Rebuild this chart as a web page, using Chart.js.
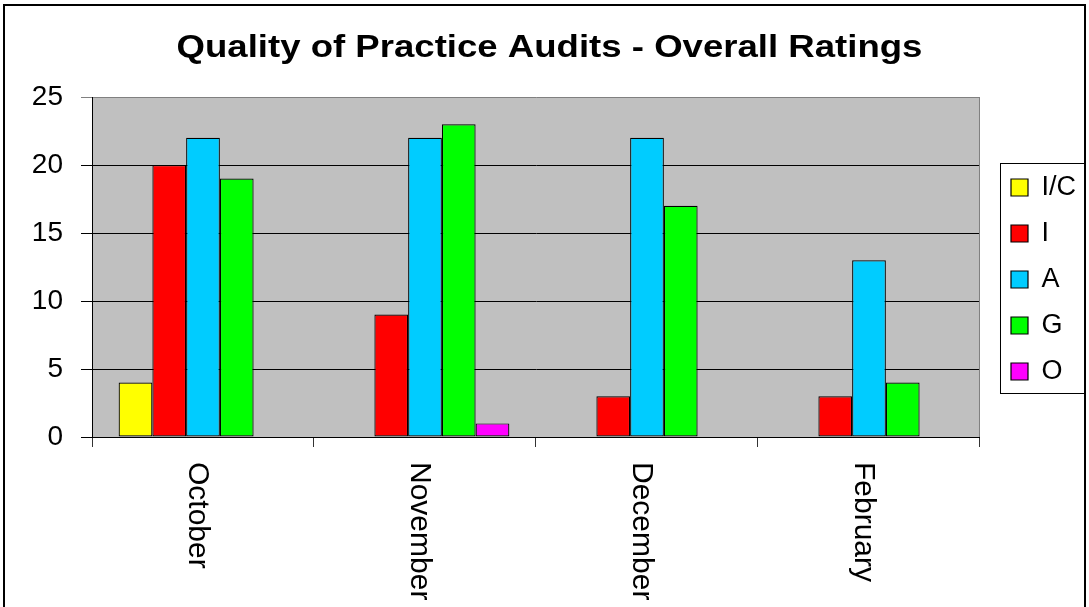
<!DOCTYPE html>
<html>
<head>
<meta charset="utf-8">
<title>Quality of Practice Audits - Overall Ratings</title>
<script src="https://cdn.jsdelivr.net/npm/chart.js@4/dist/chart.umd.min.js"></script>
<style>
  html, body { margin: 0; padding: 0; background: #fff; overflow: hidden; }
  #caixa { position: relative; width: 1089px; height: 607px; }
</style>
</head>
<body>
<div id="caixa"><canvas id="grafico"></canvas></div>
<script>
// data
const titulo = 'Quality of Practice Audits - Overall Ratings'
const meses = ['October', 'November', 'December', 'February']
const series = ['I/C', 'I', 'A', 'G', 'O']
const valoresIC = [4, 0, 0, 0]
const valoresI = [20, 9, 3, 3]
const valoresA = [22, 22, 22, 13]
const valoresG = [19, 23, 17, 4]
const valoresO = [0, 1, 0, 0]
const cores = ['#ffff00', '#ff0000', '#00ccff', '#00ff00', '#ff00ff']
const yTicks = [0, 5, 10, 15, 20, 25]

const fonte = 'Arial, "Liberation Sans", sans-serif'
Chart.defaults.font.family = fonte
Chart.defaults.color = '#000'

const todosValores = [valoresIC, valoresI, valoresA, valoresG, valoresO]

const datasets = []
for(let i = 0; i < series.length; i++){
    datasets.push({
        label: series[i],
        data: todosValores[i],
        backgroundColor: cores[i],
        borderColor: '#000',
        borderWidth: 1.2,
        borderSkipped: false
    })
}

// gray plot area, outer frame, title, rotated month labels, legend frame
const extras = {
    id: 'extras',
    afterLayout(chart){
        // legend items sit a bit right of the plot edge
        chart.legend.left += 12
        chart.legend.right += 12
    },
    beforeDraw(chart){
        const {ctx, chartArea: a} = chart
        ctx.save()
        ctx.fillStyle = '#fff'
        ctx.fillRect(0, 0, chart.width, chart.height)
        ctx.fillStyle = '#c0c0c0'
        ctx.fillRect(a.left, a.top, a.right - a.left, a.bottom - a.top)
        ctx.strokeStyle = '#000'
        ctx.lineWidth = 2
        ctx.strokeRect(4, 5, chart.width - 8, chart.height + 20)
        ctx.restore()
    },
    beforeDatasetsDraw(chart){
        const {ctx, chartArea: a} = chart
        ctx.save()
        ctx.strokeStyle = '#808080'
        ctx.lineWidth = 1
        ctx.beginPath()
        ctx.moveTo(a.right - 0.5, a.top)
        ctx.lineTo(a.right - 0.5, a.bottom)
        ctx.stroke()
        ctx.restore()
    },
    afterDraw(chart){
        const {ctx} = chart
        const x = chart.scales.x
        ctx.save()

        // title, a little wide like the original
        ctx.fillStyle = '#000'
        ctx.font = 'bold 32px ' + fonte
        ctx.textAlign = 'center'
        ctx.textBaseline = 'alphabetic'
        ctx.save()
        ctx.translate(chart.width / 2 + 5, 57)
        ctx.scale(1.143, 1)
        ctx.fillText(titulo, 0, 0)
        ctx.restore()

        // month labels read top to bottom
        ctx.font = '30px ' + fonte
        ctx.textAlign = 'left'
        for(let i = 0; i < meses.length; i++){
            ctx.save()
            ctx.translate(x.getPixelForTick(i) - 14, x.top + 25)
            ctx.rotate(Math.PI / 2)
            ctx.fillText(meses[i], 0, 0)
            ctx.restore()
        }

        const caixas = chart.legend.legendHitBoxes
        if(caixas && caixas.length){
            const primeira = caixas[0]
            const ultima = caixas[caixas.length - 1]
            const esq = primeira.left - 11
            const topo = primeira.top - 11
            const dir = chart.width - 5
            const baixo = ultima.top + ultima.height + 8
            ctx.strokeStyle = '#000'
            ctx.lineWidth = 1
            ctx.strokeRect(esq + 0.5, topo + 0.5, dir - esq, baixo - topo)
        }
        ctx.restore()
    }
}

const grafico = new Chart(document.getElementById('grafico'), {
    type: 'bar',
    data: {
        labels: meses,
        datasets: datasets
    },
    options: {
        responsive: true,
        maintainAspectRatio: false,
        animation: false,
        devicePixelRatio: 1,
        layout: {
            padding: {left: 0, right: 15, top: 97, bottom: 0}
        },
        datasets: {
            bar: {
                categoryPercentage: 0.76,
                barPercentage: 1
            }
        },
        plugins: {
            title: {display: false},
            legend: {
                position: 'right',
                fullSize: false,
                align: 'center',
                title: {display: true, text: '', padding: 0, font: {size: 20, lineHeight: 1.25}},
                labels: {
                    boxWidth: 17,
                    boxHeight: 17,
                    padding: 19,
                    color: '#000',
                    font: {size: 27, family: fonte}
                }
            },
            tooltip: {enabled: false}
        },
        scales: {
            x: {
                grid: {
                    offset: true,
                    drawOnChartArea: false,
                    drawTicks: true,
                    tickLength: 10,
                    color: '#333'
                },
                border: {display: true, color: '#000', width: 1},
                ticks: {display: false},
                afterFit(scale){
                    scale.height = 170
                }
            },
            y: {
                min: 0,
                max: 25,
                afterBuildTicks(scale){
                    scale.ticks = yTicks.map(v => ({value: v}))
                },
                ticks: {
                    padding: 18,
                    color: '#000',
                    font: {size: 28, family: fonte}
                },
                grid: {
                    tickLength: 11,
                    lineWidth: 1,
                    color: c => (c.tick && c.tick.value === 25) ? '#808080' : '#000'
                },
                border: {display: true, color: '#000', width: 1},
                afterFit(scale){
                    scale.width = 92
                }
            }
        }
    },
    plugins: [extras]
})
</script>
</body>
</html>
